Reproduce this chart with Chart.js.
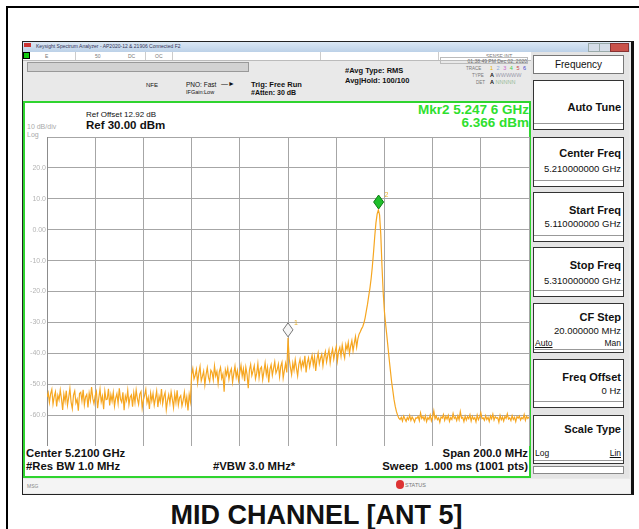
<!DOCTYPE html>
<html>
<head>
<meta charset="utf-8">
<script src="https://cdn.jsdelivr.net/npm/chart.js@4.4.1/dist/chart.umd.min.js"></script>
<style>
body{margin:0;width:639px;height:529px;background:#fff;position:relative;overflow:hidden;font-family:"Liberation Sans",Arial,sans-serif;color:#111;}
.a{position:absolute;white-space:nowrap;}
.key{position:absolute;left:533px;width:91px;background:#fff;border:1px solid #333;box-sizing:border-box;}
.key .lbl{position:absolute;right:2px;font-weight:bold;font-size:11px;}
.key .val{position:absolute;right:2px;font-size:9.5px;}
.key .sm{position:absolute;font-size:8.5px;}
.key .ln{position:absolute;left:0;right:0;height:1px;background:#999;}
.bot{position:absolute;white-space:nowrap;font-size:11.3px;font-weight:bold;}
</style>
</head>
<body>
<!-- page borders -->
<div class="a" style="left:6px;top:6px;width:633px;height:2px;background:#000"></div>
<div class="a" style="left:6px;top:6px;width:2px;height:523px;background:#000"></div>

<!-- analyzer window -->
<div class="a" style="left:22px;top:41px;width:608px;height:452px;background:#e9e9e9;border:1px solid #222;border-right:3px solid #111"></div>
<div class="a" style="left:23px;top:42px;width:607px;height:10px;background:linear-gradient(#dbe7f4,#bcd1e8)"></div>
<div class="a" style="left:24px;top:43px;width:7px;height:4px;background:#c33"></div>
<div class="a" style="left:36px;top:43px;font-size:5px;color:#335">Keysight Spectrum Analyzer - AP2020-12 &amp; 21906 Connected F2</div>
<div class="a" style="left:588px;top:43px;width:10px;height:7px;background:#d5dde8;border:1px solid #9aa"></div>
<div class="a" style="left:599px;top:43px;width:10px;height:7px;background:#d5dde8;border:1px solid #9aa"></div>
<div class="a" style="left:610px;top:43px;width:17px;height:7px;background:#c9524b;border:1px solid #833"></div>

<!-- menu row -->
<div class="a" style="left:23px;top:52px;width:508px;height:8px;background:#fff;border-bottom:1px solid #bbb"></div>
<div class="a" style="left:23px;top:52px;width:7px;height:7px;background:#1c1;border:1px solid #000;box-sizing:border-box"></div>
<div class="a" style="left:45px;top:53px;font-size:5px;color:#777">E</div>
<div class="a" style="left:95px;top:53px;font-size:5px;color:#777">50</div>
<div class="a" style="left:128px;top:53px;font-size:5px;color:#777">DC</div>
<div class="a" style="left:155px;top:53px;font-size:5px;color:#777">OC</div>
<div class="a" style="left:75px;top:52px;width:1px;height:8px;background:#ccc"></div>
<div class="a" style="left:145px;top:52px;width:1px;height:8px;background:#ccc"></div>
<div class="a" style="left:172px;top:52px;width:1px;height:8px;background:#ccc"></div>
<div class="a" style="left:320px;top:52px;width:1px;height:8px;background:#ccc"></div>
<div class="a" style="left:438px;top:52px;width:1px;height:8px;background:#ccc"></div>
<div class="a" style="left:486px;top:53px;font-size:5px;color:#777">SENSE:INT</div>

<!-- info rows -->
<div class="a" style="left:27px;top:62px;width:222px;height:10px;background:#d2d2d2;border:1px solid #999;box-sizing:border-box"></div>
<div class="a" style="left:146px;top:82px;font-size:6px">NFE</div>
<div class="a" style="left:186px;top:81px;font-size:6.5px">PNO: Fast</div>
<div class="a" style="left:221px;top:80px;font-size:7px">&#8212;&#9658;</div>
<div class="a" style="left:186px;top:89px;font-size:5.5px">IFGain:Low</div>
<div class="a" style="left:251px;top:80px;font-size:7.5px;font-weight:bold">Trig: Free Run</div>
<div class="a" style="left:251px;top:89px;font-size:7px;font-weight:bold">#Atten: 30 dB</div>
<div class="a" style="left:345px;top:66px;font-size:7.5px;font-weight:bold">#Avg Type: RMS</div>
<div class="a" style="left:345px;top:76px;font-size:7.5px;font-weight:bold">Avg|Hold: 100/100</div>
<div class="a" style="left:440px;top:57px;width:88px;height:7px;border:1px solid #bbb;box-sizing:border-box;font-size:5px;color:#666;text-align:right;line-height:6px">01:38:49 PM Dec 02, 2020</div>
<div class="a" style="left:466px;top:66px;font-size:4.5px;color:#777">TRACE</div>
<div class="a" style="left:490px;top:65px;font-size:5.5px;letter-spacing:1px"><span style="color:#e8b000">1</span> <span style="color:#8ad">2</span> <span style="color:#c6c">3</span> <span style="color:#4c4">4</span> <span style="color:#c44">5</span> <span style="color:#44c">6</span></div>
<div class="a" style="left:472px;top:73px;font-size:4.5px;color:#777">TYPE</div>
<div class="a" style="left:490px;top:72px;font-size:5.5px"><b>A</b> <span style="color:#99a">WWWWW</span></div>
<div class="a" style="left:476px;top:80px;font-size:4.5px;color:#777">DET</div>
<div class="a" style="left:490px;top:79px;font-size:5.5px"><b>A</b> <span style="color:#9b9">NNNNN</span></div>

<!-- display area -->
<div class="a" style="left:23px;top:101px;width:508px;height:377px;background:#fff;border:2px solid #2fd42f;box-sizing:border-box"></div>
<div class="a" style="left:86px;top:110px;font-size:8px">Ref Offset 12.92 dB</div>
<div class="a" style="left:86px;top:119px;font-size:11.5px;font-weight:bold">Ref 30.00 dBm</div>
<div class="a" style="left:27px;top:123px;font-size:7px;color:#aaa">10 dB/div</div>
<div class="a" style="left:27px;top:131px;font-size:7px;color:#aaa">Log</div>
<div class="a" style="right:110px;top:102px;font-size:13.5px;font-weight:bold;color:#2ee02e">Mkr2 5.247 6 GHz</div>
<div class="a" style="right:110px;top:115px;font-size:13.5px;font-weight:bold;color:#2ee02e">6.366 dBm</div>
<div class="bot" style="left:26px;top:447px">Center 5.2100 GHz</div>
<div class="bot" style="left:26px;top:460px">#Res BW 1.0 MHz</div>
<div class="bot" style="left:213px;top:460px">#VBW 3.0 MHz*</div>
<div class="bot" style="right:111px;top:447px">Span 200.0 MHz</div>
<div class="bot" style="right:111px;top:460px">Sweep&nbsp; 1.000 ms (1001 pts)</div>

<!-- status bar -->
<div class="a" style="left:23px;top:479px;width:607px;height:14px;background:#f4f4f4"></div>
<div class="a" style="left:27px;top:483px;font-size:5px;color:#888">MSG</div>
<div class="a" style="left:396px;top:480px;width:8px;height:9px;border-radius:4px;background:#d33"></div>
<div class="a" style="left:405px;top:482px;font-size:5.5px;color:#777">STATUS</div>

<!-- softkeys -->
<div class="a" style="left:531px;top:52px;width:98px;height:426px;background:#e4e4e4"></div>
<div class="key" style="top:55px;height:19px;border-color:#777"><div class="a" style="left:0;right:0;top:3px;text-align:center;font-size:10px">Frequency</div></div>
<div class="key" style="top:80px;height:50px"><div class="lbl" style="top:20px">Auto Tune</div><div class="ln" style="top:42px"></div></div>
<div class="key" style="top:137px;height:50px"><div class="lbl" style="top:9px">Center Freq</div><div class="val" style="top:25px">5.210000000 GHz</div><div class="ln" style="top:42px"></div></div>
<div class="key" style="top:192px;height:50px"><div class="lbl" style="top:11px">Start Freq</div><div class="val" style="top:25px">5.110000000 GHz</div><div class="ln" style="top:42px"></div></div>
<div class="key" style="top:247px;height:50px"><div class="lbl" style="top:11px">Stop Freq</div><div class="val" style="top:27px">5.310000000 GHz</div><div class="ln" style="top:42px"></div></div>
<div class="key" style="top:303px;height:50px"><div class="lbl" style="top:7px">CF Step</div><div class="val" style="top:21px">20.000000 MHz</div><div class="sm" style="top:34px;left:1px;text-decoration:underline">Auto</div><div class="sm" style="top:34px;right:2px">Man</div><div class="ln" style="top:45px"></div></div>
<div class="key" style="top:359px;height:49px"><div class="lbl" style="top:11px">Freq Offset</div><div class="val" style="top:25px">0 Hz</div><div class="ln" style="top:41px"></div></div>
<div class="key" style="top:415px;height:49px"><div class="lbl" style="top:7px">Scale Type</div><div class="sm" style="top:32px;left:1px">Log</div><div class="sm" style="top:32px;right:2px;text-decoration:underline">Lin</div><div class="ln" style="top:44px"></div></div>
<div class="key" style="top:466px;height:8px;border-color:#888"></div>

<div class="a" style="left:25px;top:137px;width:507px;height:309px"><canvas id="trace" width="507" height="309"></canvas></div>

<div class="a" style="left:0;width:633px;top:502px;text-align:center;font-size:27px;line-height:27px;font-weight:bold">MID CHANNEL [ANT 5]</div>

<script>
// --- sweep settings (MHz) ---
const startMHz = 5110;
const stopMHz = 5310;
const binMHz = 0.5;
const gridDivs = 10;

// --- trace levels (dBm), left to right ---
// 5110.0 - 5169.5 MHz
const floorLeft = [
  -54.2,-52.8,-55.9,-53.1,-51.7,-56.4,-54.0,-52.5,-57.2,-53.6,
  -55.1,-51.9,-54.7,-58.3,-53.2,-55.6,-52.1,-56.8,-54.3,-51.4,
  -55.8,-57.9,-53.5,-52.2,-56.1,-54.9,-58.6,-53.0,-52.6,-55.4,
  -51.8,-56.7,-54.1,-53.3,-57.5,-52.9,-55.2,-50.9,-54.6,-56.3,
  -53.7,-52.4,-57.8,-54.4,-51.6,-55.7,-53.9,-58.1,-52.3,-55.0,
  -54.8,-51.5,-56.9,-53.4,-55.5,-52.7,-57.1,-54.5,-53.1,-56.2,
  -51.3,-54.9,-55.8,-52.6,-58.4,-53.8,-55.3,-52.0,-56.6,-54.2,
  -53.5,-57.3,-52.8,-55.9,-51.9,-54.7,-56.5,-53.2,-52.4,-57.7,
  -55.1,-53.6,-51.7,-56.0,-54.3,-58.0,-52.9,-55.4,-53.0,-56.8,
  -54.6,-52.2,-57.4,-53.9,-55.7,-51.6,-56.3,-54.0,-52.7,-58.2,
  -55.3,-53.4,-56.1,-52.5,-54.8,-57.6,-53.1,-55.9,-52.0,-56.7,
  -54.4,-53.7,-57.0,-55.2,-52.6,-56.4,-54.1,-58.5,-53.3,-55.6
];
// 5170.0 - 5209.5 MHz
const rampLow = [
  -46.8,-44.9,-48.3,-47.1,-45.2,-49.6,-46.4,-44.3,-48.9,-47.5,
  -45.8,-50.2,-46.9,-44.7,-47.8,-49.1,-45.5,-46.2,-48.6,-44.1,
  -47.3,-45.9,-49.8,-46.0,-44.6,-48.1,-46.7,-52.4,-45.3,-47.0,
  -44.8,-48.4,-46.1,-45.0,-49.3,-46.6,-44.2,-47.7,-45.6,-48.8,
  -46.3,-43.9,-47.4,-45.1,-49.0,-44.5,-46.8,-51.3,-45.4,-43.6,
  -47.2,-45.7,-44.0,-48.2,-46.5,-43.4,-47.9,-45.0,-44.4,-48.5,
  -45.9,-43.1,-46.9,-44.6,-49.4,-45.2,-43.7,-47.1,-44.9,-42.8,
  -46.4,-45.3,-43.5,-47.6,-44.2,-42.9,-48.0,-45.5,-43.3,-46.2
];
// 5210.0 - 5239.5 MHz
const rampHigh = [
  -35.0,-41.8,-44.6,-46.9,-43.2,-45.5,-42.1,-44.8,-47.3,-43.6,
  -41.9,-45.0,-42.7,-44.1,-40.8,-46.2,-43.0,-41.5,-44.4,-42.3,
  -40.6,-43.8,-41.2,-45.7,-42.0,-39.9,-43.4,-41.6,-40.3,-44.0,
  -41.1,-39.4,-42.8,-40.7,-38.9,-43.1,-40.2,-38.6,-41.9,-39.7,
  -37.9,-42.4,-39.3,-38.1,-40.9,-37.4,-39.8,-41.5,-37.2,-38.8,
  -36.5,-40.1,-37.7,-35.9,-39.2,-36.8,-34.6,-38.0,-35.3,-33.8
];
// 5240.0 - 5256.0 MHz
const peak = [
  -33.0,-32.1,-31.4,-30.2,-28.5,-26.3,-24.1,-21.4,-18.9,-15.8,
  -11.9,-7.2,-2.1,2.3,5.1,6.4,4.8,-1.6,-11.8,-20.3,
  -26.4,-30.5,-34.2,-38.1,-42.0,-45.7,-49.3,-52.1,-55.0,-57.2,
  -58.9,-60.1,-61.0
];
// 5256.5 - 5310.0 MHz
const floorRight = [
  -61.4,-60.7,-61.9,-60.3,-61.2,-62.0,-60.8,-61.5,-60.1,-61.7,
  -60.6,-61.3,-62.2,-60.9,-61.0,-60.4,-61.8,-59.3,-61.1,-60.5,
  -61.6,-60.2,-62.1,-60.8,-61.4,-60.0,-61.9,-60.7,-58.6,-61.2,
  -60.3,-61.5,-60.9,-62.3,-60.6,-61.0,-59.8,-61.7,-60.4,-61.3,
  -60.1,-62.0,-60.8,-61.4,-59.5,-61.1,-60.6,-61.8,-60.2,-61.5,
  -58.9,-61.0,-60.7,-62.1,-60.3,-61.6,-60.5,-61.2,-59.9,-61.9,
  -60.4,-61.3,-60.8,-62.2,-60.0,-61.5,-60.6,-59.2,-61.1,-60.9,
  -61.7,-60.2,-61.4,-60.7,-62.0,-60.3,-61.2,-59.7,-61.6,-60.5,
  -61.0,-60.8,-62.3,-60.1,-61.5,-60.6,-61.9,-60.4,-61.1,-59.6,
  -61.3,-60.9,-61.8,-60.2,-61.4,-60.7,-62.1,-60.5,-61.0,-60.3,
  -61.6,-60.8,-61.2,-59.8,-61.7,-60.4,-61.1,-60.6
];

// --- markers ---
const markerNames = ["1", "2"];
const markerFreqs = [5210.0, 5247.6];
const markerLevels = [-35.0, 6.366];

// --- y axis (dBm) ---
const refLevel = 30;
const dbPerDiv = 10;
const yDivs = 10;

const levels = [].concat(floorLeft, rampLow, rampHigh, peak, floorRight);
const points = levels.map((v, i) => ({ x: startMHz + i * binMHz, y: v }));

const markerPlugin = {
    id: "markers",
    afterDatasetsDraw(chart) {
        const { ctx, scales: { x, y } } = chart;
        markerFreqs.forEach((f, k) => {
            const px = x.getPixelForValue(f);
            const py = y.getPixelForValue(markerLevels[k]) - 1;
            ctx.save();
            ctx.beginPath();
            ctx.moveTo(px, py);
            ctx.lineTo(px + 5, py - 7);
            ctx.lineTo(px, py - 14);
            ctx.lineTo(px - 5, py - 7);
            ctx.closePath();
            if (k === 1) {
                ctx.fillStyle = "#1fbf2a";
                ctx.strokeStyle = "#0d7a14";
            } else {
                ctx.fillStyle = "#f6f6f6";
                ctx.strokeStyle = "#777";
            }
            ctx.lineWidth = 1;
            ctx.fill();
            ctx.stroke();
            ctx.fillStyle = "#e8b030";
            ctx.font = "7px 'Liberation Sans'";
            ctx.fillText(markerNames[k], px + 6, py - 12);
            ctx.restore();
        });
    }
};

const ctx = document.getElementById("trace").getContext("2d");
let traceChart = new Chart(ctx, {
    type: "line",
    data: {
        datasets: [{
            label: "Trace 1",
            data: points,
            borderColor: "rgb(246,166,32)",
            borderWidth: 1.2,
            pointRadius: 0,
            tension: 0,
            fill: false
        }]
    },
    options: {
        responsive: false,
        animation: false,
        devicePixelRatio: 1,
        layout: { padding: { left: 0, right: 3, top: 0, bottom: 0 } },
        plugins: { legend: { display: false }, tooltip: { enabled: false } },
        scales: {
            x: {
                type: "linear",
                min: startMHz,
                max: stopMHz,
                afterBuildTicks: (s) => {
                    const t = [];
                    for (let k = 0; k <= gridDivs; k++) t.push({ value: startMHz + k * (stopMHz - startMHz) / gridDivs });
                    s.ticks = t;
                },
                afterFit: (s) => { s.height = 0; s.paddingLeft = 0; s.paddingRight = 0; },
                ticks: { display: false },
                grid: { color: "#a6a6a6", lineWidth: 1, drawTicks: false },
                border: { color: "#8c8c8c" }
            },
            y: {
                min: refLevel - yDivs * dbPerDiv,
                max: refLevel,
                afterFit: (s) => { s.width = 22; s.paddingTop = 0; s.paddingBottom = 0; },
                ticks: {
                    stepSize: dbPerDiv,
                    padding: 1,
                    color: "#b4b4b4",
                    font: { family: "Liberation Sans", size: 7 },
                    callback: (v) => {
                        if (v === refLevel || v === refLevel - yDivs * dbPerDiv) return "";
                        return v === 0 ? "0.00" : v.toFixed(1);
                    }
                },
                grid: { color: "#a6a6a6", lineWidth: 1, drawTicks: false },
                border: { color: "#8c8c8c" }
            }
        }
    },
    plugins: [markerPlugin]
});
</script>
</body>
</html>
